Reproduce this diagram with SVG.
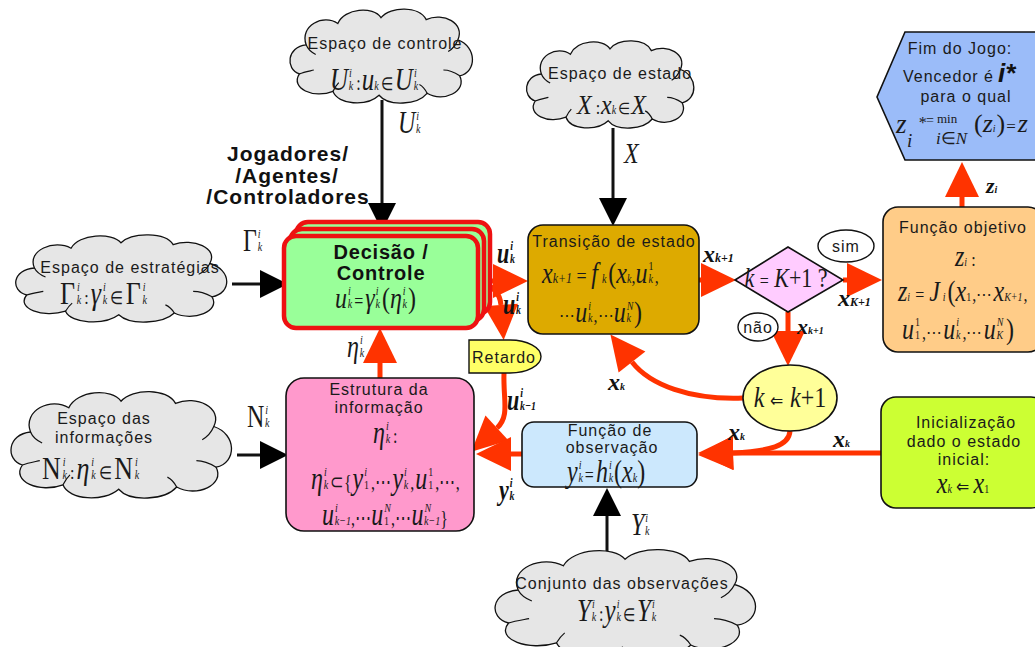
<svg xmlns="http://www.w3.org/2000/svg" xmlns:xlink="http://www.w3.org/1999/xlink" width="1035" height="647" viewBox="0 0 1035 647">
<style>
  .t { font-family: "Liberation Sans", Arial, sans-serif; font-size: 16px; letter-spacing: 1px; fill: #1a1a1a; }
  .tb { font-family: "Liberation Sans", Arial, sans-serif; font-weight: bold; fill: #111; }
  .m { font-family: "Liberation Serif", "Times New Roman", serif; font-style: italic; fill: #1a1a1a; }
  .mb { font-family: "Liberation Serif", "Times New Roman", serif; font-style: italic; font-weight: bold; fill: #111; }
  .u { font-style: normal; }
  .s { font-size: 10px; }
  .ss { font-size: 12px; }
  .cloud { fill: #e6e6e6; stroke: #111; stroke-width: 1.3; }
  .curl { fill: none; stroke: #111; stroke-width: 1.2; }
  .box { stroke: #111; stroke-width: 1.6; }
  .dec { fill: #99ff99; stroke: #ee1111; stroke-width: 4.5; }
  .wk { fill: none; stroke: #111; stroke-width: 3; }
  .wo { fill: none; stroke: #ff3300; stroke-width: 5; }
</style>
<defs>
  <path id="cloud-shape" vector-effect="non-scaling-stroke" d="M22,40 C15,20 40,8 55,18 C62,2 92,0 100,12 C110,0 140,0 147,14 C165,6 188,18 180,35 C200,42 200,68 182,72 C190,88 165,100 148,90 C138,102 108,104 98,92 C85,104 55,102 50,88 C30,96 5,85 15,70 C0,65 2,42 22,40 Z"/>
  <path id="cloud-curls" vector-effect="non-scaling-stroke" d="M22,40 C24,45 28,48 32,50 M15,70 C20,68 26,67 30,66 M180,35 C178,40 175,44 170,47 M182,72 C176,68 170,66 165,66 M50,88 C52,84 54,81 56,79 M148,90 C146,86 144,83 140,81"/>
  <marker id="ah-o" markerUnits="userSpaceOnUse" markerWidth="36" markerHeight="34" refX="0" refY="17" orient="auto" overflow="visible">
    <path d="M0,0 L35,17 L0,34 Z" fill="#ff3300"/>
  </marker>
  <marker id="ah-k" markerUnits="userSpaceOnUse" markerWidth="28" markerHeight="28" refX="0" refY="14" orient="auto" overflow="visible">
    <path d="M0,0 L28,14 L0,28 Z" fill="#000"/>
  </marker>
</defs>

<rect width="1035" height="647" fill="#ffffff"/>

<!-- connectors -->
<g id="connectors">
  <path class="wk" d="M382,100 L382,203" marker-end="url(#ah-k)"/>
  <path class="wk" d="M613,128 L613,198" marker-end="url(#ah-k)"/>
  <path class="wk" d="M232,284 L260,284" marker-end="url(#ah-k)"/>
  <path class="wk" d="M237,455 L260,455" marker-end="url(#ah-k)"/>
  <path class="wk" d="M607,555 L607,516" marker-end="url(#ah-k)"/>

  <path class="wo" d="M479,281 L493,281" marker-end="url(#ah-o)"/>
  <path class="wo" d="M478,281 C492,285 500,292 501,305" marker-end="url(#ah-o)"/>
  <path class="wo" d="M504,373 C503,400 510,416 497,428" marker-end="url(#ah-o)"/>
  <path class="wo" d="M522,454 L511,454" marker-end="url(#ah-o)"/>
  <path class="wo" d="M380,378 L380,363" marker-end="url(#ah-o)"/>
  <path class="wo" d="M699,280 L701,280" marker-end="url(#ah-o)"/>
  <path class="wo" d="M843,280 L847,280" marker-end="url(#ah-o)"/>
  <path class="wo" d="M788,312 L788,331" marker-end="url(#ah-o)"/>
  <path class="wo" d="M743,398 C690,400 650,385 632,362" marker-end="url(#ah-o)"/>
  <path class="wo" d="M790,431 C789,446 770,451 733,453" marker-end="url(#ah-o)"/>
  <path class="wo" d="M881,453 L733,453" marker-end="url(#ah-o)"/>
  <path class="wo" d="M962,207 L962,197" marker-end="url(#ah-o)"/>

  <!-- connector labels -->
  <text class="m" x="398" y="133" font-size="24" transform="matrix(1 0 0 1.3 0 -39.9)">U<tspan class="s" dx="1" dy="-10">i</tspan><tspan class="s" dx="-3" dy="10">k</tspan></text>
  <text class="m" x="624" y="163" font-size="24" transform="matrix(1 0 0 1.2 0 -32.6)">X</text>
  <text class="m" x="243" y="251" font-size="24" transform="matrix(1 0 0 1.3 0 -75.3)"><tspan class="u">Γ</tspan><tspan class="s" dx="1" dy="-10">i</tspan><tspan class="s" dx="-3" dy="10">k</tspan></text>
  <text class="m" x="247" y="427" font-size="24" transform="matrix(1 0 0 1.3 0 -128.1)"><tspan class="u">N</tspan><tspan class="s" dx="1" dy="-10">i</tspan><tspan class="s" dx="-3" dy="10">k</tspan></text>
  <text class="mb" x="497" y="263" font-size="22" transform="matrix(1 0 0 1.3 0 -78.9)">u<tspan class="s" dx="1" dy="-10">i</tspan><tspan class="s" dx="-3" dy="10">k</tspan></text>
  <text class="mb" x="503" y="314" font-size="22" transform="matrix(1 0 0 1.3 0 -94.2)">u<tspan class="s" dx="1" dy="-10">i</tspan><tspan class="s" dx="-3" dy="10">k</tspan></text>
  <text class="m" x="347" y="357" font-size="24" transform="matrix(1 0 0 1.3 0 -107.1)">η<tspan class="s" dx="1" dy="-10">i</tspan><tspan class="s" dx="-3" dy="10">k</tspan></text>
  <text class="mb" x="507" y="410" font-size="22" transform="matrix(1 0 0 1.3 0 -123)">u<tspan class="s" dx="1" dy="-10">i</tspan><tspan class="s" dx="-3" dy="10">k−1</tspan></text>
  <text class="mb" x="499" y="500" font-size="22" transform="matrix(1 0 0 1.3 0 -150)">y<tspan class="s" dx="1" dy="-10">i</tspan><tspan class="s" dx="-3" dy="10">k</tspan></text>
  <text class="mb" x="703" y="262" font-size="24">x<tspan class="ss">k+1</tspan></text>
  <text class="mb" x="838" y="306" font-size="24">x<tspan class="ss">K+1</tspan></text>
  <text class="mb" x="797" y="334" font-size="22">x<tspan class="s">k+1</tspan></text>
  <text class="mb" x="608" y="390" font-size="24">x<tspan class="s">k</tspan></text>
  <text class="mb" x="728" y="440" font-size="24">x<tspan class="s">k</tspan></text>
  <text class="mb" x="833" y="447" font-size="24">x<tspan class="s">k</tspan></text>
  <text class="m" x="631" y="535" font-size="24" transform="matrix(1 0 0 1.3 0 -160.5)">Y<tspan class="s" dx="1" dy="-10">i</tspan><tspan class="s" dx="-3" dy="10">k</tspan></text>
  <text class="mb" x="986" y="193" font-size="22">z<tspan class="s">i</tspan></text>

  <ellipse cx="846" cy="246" rx="28" ry="16" fill="#fff" stroke="#111" stroke-width="1.4"/>
  <text class="t" x="846" y="252" text-anchor="middle">sim</text>
  <ellipse cx="758" cy="327" rx="20" ry="14" fill="#fff" stroke="#111" stroke-width="1.4"/>
  <text class="t" x="758" y="333" text-anchor="middle" letter-spacing="0">não</text>

  <text class="tb" x="288" y="161" text-anchor="middle" font-size="21" letter-spacing="1">Jogadores/</text>
  <text class="tb" x="287" y="183" text-anchor="middle" font-size="21" letter-spacing="1">/Agentes/</text>
  <text class="tb" x="288" y="204" text-anchor="middle" font-size="21" letter-spacing="1">/Controladores</text>
</g>

<!-- control space cloud -->
<g id="cloud-controle">
  <use xlink:href="#cloud-shape" class="cloud" transform="translate(285,6) scale(0.96,0.97)"/>
  <use xlink:href="#cloud-curls" class="curl" transform="translate(285,6) scale(0.96,0.97)"/>
  <text class="t" x="385" y="49" text-anchor="middle">Espaço de controle</text>
  <text class="m" x="330" y="90" font-size="25" transform="matrix(1 0 0 1.28 0 -25.2)">U<tspan class="s" dx="1" dy="-10">i</tspan><tspan class="s" dx="-3" dy="10">k</tspan><tspan class="u" dx="3" font-size="16">:</tspan><tspan dx="1">u</tspan><tspan class="s">k</tspan><tspan class="u" dx="2" font-size="14">∈</tspan><tspan dx="2">U</tspan><tspan class="s" dx="1" dy="-10">i</tspan><tspan class="s" dx="-3" dy="10">k</tspan></text>
</g>

<!-- state space cloud -->
<g id="cloud-estado">
  <use xlink:href="#cloud-shape" class="cloud" transform="translate(522,38) scale(0.88,0.9)"/>
  <use xlink:href="#cloud-curls" class="curl" transform="translate(522,38) scale(0.88,0.9)"/>
  <text class="t" x="620" y="79" text-anchor="middle">Espaço de estado</text>
  <text class="m" x="577" y="114" font-size="24" transform="matrix(1 0 0 1.15 0 -17.1)">X<tspan class="u" font-size="16"> :</tspan><tspan dx="1">x</tspan><tspan class="s">k</tspan><tspan class="u" dx="2" font-size="14">∈</tspan><tspan dx="1">X</tspan></text>
</g>

<!-- strategy space cloud -->
<g id="cloud-estrategias">
  <use xlink:href="#cloud-shape" class="cloud" transform="translate(10,232) scale(1.11,0.9)"/>
  <use xlink:href="#cloud-curls" class="curl" transform="translate(10,232) scale(1.11,0.9)"/>
  <text class="t" x="130" y="273" text-anchor="middle">Espaço de estratégias</text>
  <text class="m" x="60" y="304" font-size="26" transform="matrix(1 0 0 1.2 0 -60.8)"><tspan class="u">Γ</tspan><tspan class="s" dx="2" dy="-11">i</tspan><tspan class="s" dx="-3" dy="11">k</tspan><tspan class="u" dx="3" font-size="16">:</tspan><tspan dx="2">γ</tspan><tspan class="s" dx="2" dy="-11">i</tspan><tspan class="s" dx="-3" dy="11">k</tspan><tspan class="u" dx="3" font-size="15">∈</tspan><tspan class="u" dx="2">Γ</tspan><tspan class="s" dx="2" dy="-11">i</tspan><tspan class="s" dx="-3" dy="11">k</tspan></text>
</g>

<!-- information space cloud -->
<g id="cloud-informacoes">
  <use xlink:href="#cloud-shape" class="cloud" transform="translate(5,388) scale(1.16,1.1)"/>
  <use xlink:href="#cloud-curls" class="curl" transform="translate(5,388) scale(1.16,1.1)"/>
  <text class="t" x="104" y="424" text-anchor="middle">Espaço das</text>
  <text class="t" x="104" y="443" text-anchor="middle">informações</text>
  <text class="m" x="42" y="479" font-size="26" transform="matrix(1 0 0 1.2 0 -95.8)"><tspan class="u">N</tspan><tspan class="s" dx="2" dy="-11">i</tspan><tspan class="s" dx="-3" dy="11">k</tspan><tspan class="u" dx="3" font-size="16">:</tspan><tspan dx="2">η</tspan><tspan class="s" dx="2" dy="-11">i</tspan><tspan class="s" dx="-3" dy="11">k</tspan><tspan class="u" dx="3" font-size="15">∈</tspan><tspan class="u" dx="2">N</tspan><tspan class="s" dx="2" dy="-11">i</tspan><tspan class="s" dx="-3" dy="11">k</tspan></text>
</g>

<!-- observation set cloud -->
<g id="cloud-observacoes">
  <use xlink:href="#cloud-shape" class="cloud" transform="translate(488,546) scale(1.37,1.1)"/>
  <use xlink:href="#cloud-curls" class="curl" transform="translate(488,546) scale(1.37,1.1)"/>
  <text class="t" x="622" y="589" text-anchor="middle" letter-spacing="1.4">Conjunto das observações</text>
  <text class="m" x="577" y="621" font-size="25" transform="matrix(1 0 0 1.28 0 -173.9)">Y<tspan class="s" dx="1" dy="-10">i</tspan><tspan class="s" dx="-3" dy="10">k</tspan><tspan class="u" dx="3" font-size="16">:</tspan><tspan dx="1">y</tspan><tspan class="s" dx="1" dy="-10">i</tspan><tspan class="s" dx="-3" dy="10">k</tspan><tspan class="u" dx="2" font-size="14">∈</tspan><tspan dx="2">Y</tspan><tspan class="s" dx="1" dy="-10">i</tspan><tspan class="s" dx="-3" dy="10">k</tspan></text>
</g>

<!-- decision / control (stacked players) -->
<g id="decisao">
  <rect class="dec" x="296" y="222" width="194" height="92" rx="12"/>
  <rect class="dec" x="290" y="229" width="194" height="92" rx="12"/>
  <rect class="dec" x="284" y="236" width="194" height="92" rx="12"/>
  <text class="tb" x="381" y="259" text-anchor="middle" font-size="20" letter-spacing="0.8">Decisão /</text>
  <text class="tb" x="381" y="280" text-anchor="middle" font-size="20" letter-spacing="0.8">Controle</text>
  <text class="m" x="335" y="308" font-size="24" transform="matrix(1 0 0 1.25 0 -77)">u<tspan class="s" dx="1" dy="-10">i</tspan><tspan class="s" dx="-3" dy="10">k</tspan><tspan class="u" dx="2" font-size="16">=</tspan><tspan dx="2">γ</tspan><tspan class="s" dx="1" dy="-10">i</tspan><tspan class="s" dx="-3" dy="10">k</tspan><tspan class="u" dx="2">(</tspan><tspan>η</tspan><tspan class="s" dx="1" dy="-10">i</tspan><tspan class="s" dx="-3" dy="10">k</tspan><tspan class="u" dx="1">)</tspan></text>
</g>

<!-- state transition -->
<g id="transicao">
  <rect class="box" x="528" y="225" width="171" height="109" rx="15" fill="#ddaa00"/>
  <text class="t" x="614" y="247" text-anchor="middle" font-size="17">Transição de estado</text>
  <text class="m" x="542" y="283" font-size="24" transform="matrix(1 0 0 1.2 0 -56.6)">x<tspan class="ss">k+1</tspan><tspan class="u" font-size="18"> = </tspan><tspan>f</tspan><tspan class="s" dx="4">k</tspan><tspan class="u" dx="2">(</tspan><tspan>x</tspan><tspan class="s">k</tspan><tspan class="u" font-size="16">,</tspan><tspan>u</tspan><tspan class="s u" dx="1" dy="-11">1</tspan><tspan class="s" dx="-5" dy="11">k</tspan><tspan class="u" dx="2" font-size="16">,</tspan></text>
  <text class="m" x="559" y="322" font-size="24" transform="matrix(1 0 0 1.2 0 -64.4)"><tspan class="u" font-size="16">⋯</tspan><tspan>u</tspan><tspan class="s" dx="1" dy="-10">i</tspan><tspan class="s" dx="-3" dy="10">k</tspan><tspan class="u" dx="1" font-size="16">,⋯</tspan><tspan>u</tspan><tspan class="s" dx="1" dy="-10">N</tspan><tspan class="s" dx="-7" dy="10">k</tspan><tspan class="u" dx="3">)</tspan></text>
</g>

<!-- end-of-stage test -->
<g id="teste">
  <polygon points="735,280 788,247 843,280 788,312" fill="#ffccff" stroke="#111" stroke-width="1.6"/>
  <text class="m" x="786" y="287" font-size="22" text-anchor="middle" transform="matrix(1 0 0 1.2 0 -57.4)">k <tspan class="u" font-size="16">=</tspan> K<tspan class="u">+1 ?</tspan></text>
</g>

<!-- stage increment -->
<g id="incremento">
  <ellipse cx="790" cy="398" rx="47" ry="33" fill="#ffff99" stroke="#111" stroke-width="1.6"/>
  <text class="m" x="790" y="407" font-size="24" text-anchor="middle" transform="matrix(1 0 0 1.2 0 -81.4)">k <tspan class="u" font-size="16">⇐</tspan> k<tspan class="u">+1</tspan></text>
</g>

<!-- objective function -->
<g id="objetivo">
  <rect class="box" x="883" y="207" width="160" height="145" rx="15" fill="#ffcc88"/>
  <text class="t" x="963" y="233" text-anchor="middle">Função objetivo</text>
  <text class="m" x="955" y="266" font-size="24" transform="matrix(1 0 0 1.2 0 -53.2)">z<tspan class="s">i</tspan><tspan class="u" font-size="16"> :</tspan></text>
  <text class="m" x="898" y="301" font-size="24" transform="matrix(1 0 0 1.2 0 -60.2)">z<tspan class="s">i</tspan><tspan class="u" dx="1" font-size="16"> = </tspan><tspan dx="1">J</tspan><tspan class="s" dx="3">i</tspan><tspan class="u" dx="2">(</tspan><tspan>x</tspan><tspan class="s u">1</tspan><tspan class="u" dx="1" font-size="16">,⋯</tspan><tspan dx="1">x</tspan><tspan class="s">K+1</tspan><tspan class="u" dx="1" font-size="16">,</tspan></text>
  <text class="m" x="902" y="339" font-size="24" transform="matrix(1 0 0 1.2 0 -67.8)">u<tspan class="s u" dx="1" dy="-11">1</tspan><tspan class="s u" dx="-5" dy="11">1</tspan><tspan class="u" dx="2" font-size="16">,⋯</tspan><tspan dx="1">u</tspan><tspan class="s" dx="1" dy="-11">i</tspan><tspan class="s" dx="-3" dy="11">k</tspan><tspan class="u" dx="2" font-size="16">,⋯</tspan><tspan dx="1">u</tspan><tspan class="s" dx="1" dy="-11">N</tspan><tspan class="s" dx="-7" dy="11">K</tspan><tspan class="u" dx="3">)</tspan></text>
</g>

<!-- end of game -->
<g id="fim">
  <polygon points="905,32 1045,32 1065,97 1045,160 905,160 877,97" fill="#9bbcf9" stroke="#111" stroke-width="1.6"/>
  <text class="t" x="960" y="54" text-anchor="middle">Fim do Jogo:</text>
  <text class="t" x="903" y="82">Vencedor é</text>
  <text class="tb" x="998" y="82" font-size="26" font-style="italic">i*</text>
  <text class="t" x="966" y="102" text-anchor="middle">para o qual</text>
  <text class="m" x="896" y="133" font-size="27">z</text>
  <text class="m" x="907" y="147" font-size="19">i</text>
  <text class="m" x="918" y="128" font-size="16">*</text>
  <text class="m u" x="926" y="125" font-size="14">=</text>
  <text class="m u" x="937" y="123" font-size="13">min</text>
  <text class="m" x="936" y="144" font-size="17">i<tspan class="u">∈</tspan>N</text>
  <text class="m" x="974" y="132" font-size="26"><tspan class="u">(</tspan>z<tspan class="s">i</tspan><tspan class="u" dx="1">)</tspan><tspan class="u" dx="1" font-size="17">=</tspan><tspan dx="2">z</tspan></text>
</g>

<!-- delay -->
<g id="retardo">
  <path d="M469,340 H510 A31,16.5 0 0 1 510,373 H469 Z" fill="#ffff66" stroke="#111" stroke-width="1.4"/>
  <text class="t" x="504" y="363" text-anchor="middle" letter-spacing="0.3">Retardo</text>
</g>

<!-- information structure -->
<g id="estrutura">
  <rect class="box" x="286" y="378" width="188" height="153" rx="18" fill="#ff99cc"/>
  <text class="t" x="379" y="395" text-anchor="middle">Estrutura da</text>
  <text class="t" x="379" y="413" text-anchor="middle">informação</text>
  <text class="m" x="373" y="443" font-size="24" transform="matrix(1 0 0 1.3 0 -132.9)">η<tspan class="s" dx="1" dy="-10">i</tspan><tspan class="s" dx="-3" dy="10">k</tspan><tspan class="u" dx="3" font-size="16">:</tspan></text>
  <text class="m" x="311" y="489" font-size="24" transform="matrix(1 0 0 1.3 0 -146.7)">η<tspan class="s" dx="1" dy="-10">i</tspan><tspan class="s" dx="-3" dy="10">k</tspan><tspan class="u" dx="2" font-size="16">⊂{</tspan><tspan dx="1">y</tspan><tspan class="s" dx="1" dy="-10">i</tspan><tspan class="s u" dx="-3" dy="10">1</tspan><tspan class="u" dx="2" font-size="16">,⋯</tspan><tspan dx="1">y</tspan><tspan class="s" dx="1" dy="-10">i</tspan><tspan class="s" dx="-3" dy="10">k</tspan><tspan class="u" dx="2" font-size="16">,</tspan><tspan dx="1">u</tspan><tspan class="s u" dx="1" dy="-10">1</tspan><tspan class="s u" dx="-5" dy="10">1</tspan><tspan class="u" dx="2" font-size="16">,⋯,</tspan></text>
  <text class="m" x="322" y="525" font-size="24" transform="matrix(1 0 0 1.3 0 -157.5)">u<tspan class="s" dx="1" dy="-10">i</tspan><tspan class="s" dx="-3" dy="10">k−1</tspan><tspan class="u" font-size="16">,⋯</tspan><tspan>u</tspan><tspan class="s" dx="1" dy="-10">N</tspan><tspan class="s u" dx="-7" dy="10">1</tspan><tspan class="u" dx="2" font-size="16">,⋯</tspan><tspan>u</tspan><tspan class="s" dx="1" dy="-10">N</tspan><tspan class="s" dx="-7" dy="10">k−1</tspan><tspan class="u" font-size="16">}</tspan></text>
</g>

<!-- observation function -->
<g id="observacao">
  <rect class="box" x="522" y="422" width="175" height="65" rx="12" fill="#cce8fd"/>
  <text class="t" x="610" y="436" text-anchor="middle">Função de</text>
  <text class="t" x="612" y="453" text-anchor="middle">observação</text>
  <text class="m" x="567" y="482" font-size="24" transform="matrix(1 0 0 1.3 0 -144.6)">y<tspan class="s" dx="1" dy="-10">i</tspan><tspan class="s" dx="-3" dy="10">k</tspan><tspan class="u" dx="2" font-size="16">=</tspan><tspan dx="2">h</tspan><tspan class="s" dx="1" dy="-10">i</tspan><tspan class="s" dx="-3" dy="10">k</tspan><tspan class="u" dx="1">(</tspan><tspan>x</tspan><tspan class="s">k</tspan><tspan class="u">)</tspan></text>
</g>

<!-- initialisation -->
<g id="inicializacao">
  <rect class="box" x="881" y="397" width="165" height="111" rx="15" fill="#ccff33"/>
  <text class="t" x="966" y="428" text-anchor="middle">Inicialização</text>
  <text class="t" x="964" y="447" text-anchor="middle">dado o estado</text>
  <text class="t" x="964" y="465" text-anchor="middle">inicial:</text>
  <text class="m" x="963" y="493" font-size="24" text-anchor="middle" transform="matrix(1 0 0 1.2 0 -98.6)">x<tspan class="s">k</tspan><tspan class="u" font-size="16"> ⇐ </tspan><tspan>x</tspan><tspan class="s u">1</tspan></text>
</g>
</svg>
